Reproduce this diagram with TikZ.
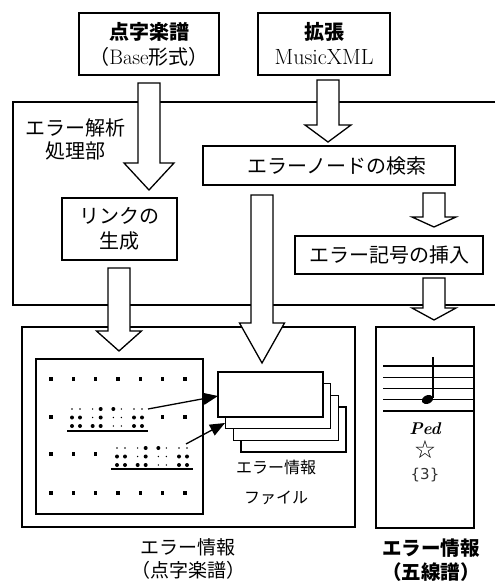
\documentclass[tikz,border=0pt]{standalone}
\usepackage{fontspec}
\newfontfamily\jp{Noto Sans CJK JP}
\newfontfamily\dejavu{DejaVu Sans}
\usetikzlibrary{arrows.meta}
\newcommand\BlkArrow[6]{%
  \draw[blkarrow] ({#1-#5},#2) -- ({#1+#5},#2) -- ({#1+#5},#3) -- ({#1+#6},#3)
    -- (#1,#4) -- ({#1-#6},#3) -- ({#1-#5},#3) -- cycle;}
\newcommand\BrBlock[2]{%
  \foreach \c/\j/\r in {0/0/1,0/1/1,0/0/2,0/1/2,1/1/0,1/1/1,1/0/2,1/1/2,2/0/0,3/0/1,3/1/1,3/0/2,3/1/2}{
    \fill ({#1+\c*20.67+\j*8},{#2+\r*8.5}) circle (2pt);}
  \foreach \c/\j/\r in {0/0/0,0/1/0,1/0/0,1/0/1,2/1/0,2/0/1,2/1/1,2/0/2,2/1/2,3/0/0,3/1/0}{
    \fill ({#1+\c*20.67+\j*8},{#2+\r*8.5}) circle (0.8pt);}
}
\newcommand\SqDot[2]{\fill ({#1-1.8},{#2-2.2}) rectangle ({#1+1.8},{#2+2.2});}
\begin{document}
\begin{tikzpicture}[x=1pt,y=-1pt,line width=1.4pt,
  box/.style={draw,line width=1.4pt,fill=white,inner sep=0pt,align=center,
    font=\jp\fontsize{20}{25}\selectfont},
  blkarrow/.style={draw,fill=white,line width=1.3pt,line join=miter},
  lbl/.style={inner sep=0pt,align=center},
  frame/.style={draw,line width=1.4pt,fill=white},
  stack/.style={draw,line width=1.3pt,fill=white},
  link/.style={line width=1.3pt,-{Triangle[length=15pt,width=12pt]}}]
\useasboundingbox (0,0) rectangle (495,583);
% process area (right side runs off the picture)
\draw[line width=1.4pt] (495,102) -- (13,102) -- (13,305) -- (495,305);
\node[lbl,font=\jp\fontsize{20}{23}\selectfont] (proc) at (75,139) {エラー解析\\処理部};
% input boxes
\node[box,minimum width=140pt,minimum height=62pt] (src1) at (149,44)
  {{\bfseries 点字楽譜}\\（{\rmfamily\fontsize{21}{25}\selectfont Base}形式）};
\node[box,minimum width=132pt,minimum height=62pt] (src2) at (324,44)
  {{\bfseries 拡張}\\{\rmfamily\fontsize{22}{25}\selectfont MusicXML}};
% processing boxes
\node[box,minimum width=252pt,minimum height=39pt] (search) at (329,165.5) {\hspace*{16pt}エラーノードの検索};
\node[box,minimum width=115pt,minimum height=62pt] (linkgen) at (119.5,229) {リンクの\\生成};
\node[box,minimum width=188pt,minimum height=38pt] (insert) at (389,255) {エラー記号の挿入};
% braille output
\draw[frame] (22,327) rectangle (355,527);
\draw[frame] (36,359) rectangle (203,514);
\foreach \k in {0,...,6}{\SqDot{51+22.33*\k}{379}\SqDot{51+22.33*\k}{493}}
\foreach \k in {0,5,6}{\SqDot{51+22.33*\k}{417}}
\foreach \k in {0,1,2}{\SqDot{51+22.33*\k}{454}}
\BrBlock{72}{409}
\BrBlock{117}{448}
\draw[line width=1.2pt] (67,431) -- (148,431);
\draw[line width=1.2pt] (111,469) -- (193,469);
% error info file stack
\foreach \k in {3,2,1,0}{
  \draw[stack] ({218+7.7*\k},{372+11.7*\k}) rectangle ({323+7.7*\k},{417+11.7*\k});}
\coordinate (f1) at (218,396);
\coordinate (f2) at (225,423);
\coordinate (b1) at (148,409);
\coordinate (b2) at (186,444);
\draw[link] (b1) -- (f1);
\draw[link] (b2) -- (f2);
\node[lbl,font=\jp\fontsize{16}{30}\selectfont] (filelbl) at (276,482) {エラー情報\\ファイル};
% staff output
\draw[frame] (376,327) rectangle (474,528);
\foreach \yy in {366,377.2,388.5,399.7,411}{\draw[line width=1.1pt] (383,\yy) -- (473,\yy);}
\fill[rotate around={25:(427.5,399.5)}] (427.5,399.5) ellipse (6pt and 4.2pt);
\draw[line width=1.2pt] (433,398) -- (433,357);
\node[lbl,font=\rmfamily\itshape\bfseries\fontsize{17}{17}\selectfont] (ped) at (425,429) {Ped};
\node[lbl,font=\dejavu\fontsize{25}{25}\selectfont,text height=17pt,text depth=1pt] (star) at (425,450) {☆};
\node[lbl,font=\dejavu\fontsize{15}{15}\selectfont,text=black!80] (tri) at (425,475) {\{3\}};
% bottom labels
\node[lbl,font=\jp\fontsize{19}{23}\selectfont] (lblL) at (188,559) {エラー情報\\（点字楽譜）};
\node[lbl,font=\jp\bfseries\fontsize{19.5}{24}\selectfont] (lblR) at (431,560) {エラー情報\\（五線譜）};
% block arrows
\BlkArrow{149}{83}{163}{190}{11}{25}
\BlkArrow{328}{80}{125}{142}{11}{23}
\BlkArrow{262}{195}{323}{363}{11}{22.5}
\BlkArrow{434}{193}{217}{227}{11}{22}
\BlkArrow{434}{278}{308}{320}{11}{22}
\BlkArrow{119}{268}{331}{351}{11}{22.5}
\end{tikzpicture}
\end{document}
